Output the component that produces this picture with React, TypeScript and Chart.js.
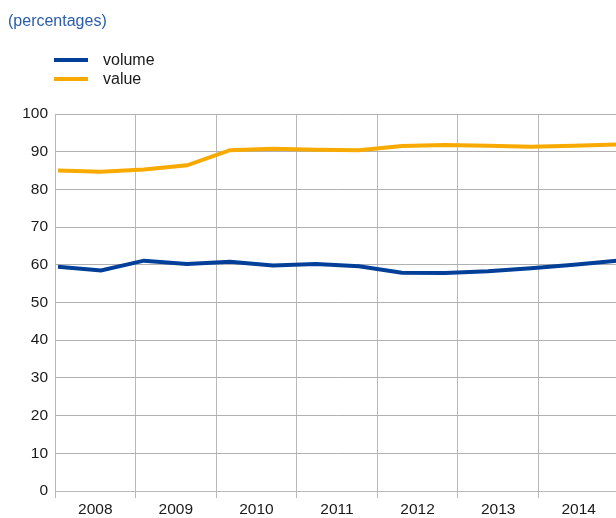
import React, { useEffect, useRef } from "react";
import { Chart, registerables } from "chart.js";

Chart.register(...registerables);

const years = ["2008", "2009", "2010", "2011", "2012", "2013", "2014"];
const volume = [59.5, 58.5, 61.1, 60.2, 60.8, 59.8, 60.2, 59.6, 57.9, 57.8, 58.3, 59.1, 60.0, 61.1];
const value = [85.0, 84.7, 85.3, 86.4, 90.4, 90.8, 90.5, 90.4, 91.5, 91.8, 91.6, 91.3, 91.6, 91.9];
const yTicks = [0, 10, 20, 30, 40, 50, 60, 70, 80, 90, 100];

const BLUE = "#023f98";
const ORANGE = "#f8aa00";
const FONT = "'Liberation Sans', Arial, sans-serif";

export default function App() {
  const ref = useRef<HTMLCanvasElement | null>(null);

  useEffect(() => {
    document.body.style.margin = "0";
    const ctx = ref.current!;
    const chart = new Chart(ctx, {
      type: "line",
      data: {
        labels: years,
        datasets: [
          {
            label: "volume",
            data: volume.map((v, i) => ({ x: i, y: v })),
            borderColor: BLUE,
            backgroundColor: BLUE,
            borderWidth: 4,
            pointRadius: 0,
            tension: 0,
            xAxisID: "xl",
          },
          {
            label: "value",
            data: value.map((v, i) => ({ x: i, y: v })),
            borderColor: ORANGE,
            backgroundColor: ORANGE,
            borderWidth: 4,
            pointRadius: 0,
            tension: 0,
            xAxisID: "xl",
          },
        ],
      },
      options: {
        animation: false,
        responsive: false,
        maintainAspectRatio: false,
        layout: { padding: { top: 114, left: 0, right: 0, bottom: 0 } },
        plugins: { legend: { display: false }, tooltip: { enabled: false }, title: { display: false } },
        scales: {
          x: {
            type: "category",
            offset: true,
            grid: { offset: true, color: "#b8b8b8", lineWidth: 1, tickLength: 7, drawTicks: true },
            border: { display: true, color: "#b8b8b8" },
            ticks: { color: "#1a1a1a", font: { family: FONT, size: 15.5 }, padding: 2, maxRotation: 0 },
            afterFit: (s: any) => { s.height = 27; },
          },
          xl: {
            type: "linear",
            display: false,
            min: -0.07,
            max: 13.05,
          },
          y: {
            min: 0,
            max: 100,
            afterBuildTicks: (s: any) => { s.ticks = yTicks.map((v) => ({ value: v })); },
            grid: { color: "#b0b0b0", lineWidth: 1, tickLength: 0, drawTicks: false },
            border: { display: true, color: "#b8b8b8" },
            ticks: { color: "#1a1a1a", font: { family: FONT, size: 15.5 }, padding: 7 },
            afterFit: (s: any) => { s.width = 55; },
          },
        },
      },
    });
    return () => chart.destroy();
  }, []);

  return (
    <div style={{ position: "relative", width: 616, height: 518, overflow: "hidden", fontFamily: FONT }}>
      <canvas ref={ref} width={619} height={518} style={{ position: "absolute", left: 0, top: 0, width: 619, height: 518 }} />
      <div style={{ position: "absolute", left: 8, top: 11, fontSize: 16, color: "#2a5caa", lineHeight: "20px" }}>
        (percentages)
      </div>
      {[
        { label: "volume", color: BLUE, top: 50 },
        { label: "value", color: ORANGE, top: 69 },
      ].map((it) => (
        <div key={it.label} style={{ position: "absolute", left: 54, top: it.top, height: 20, display: "flex", alignItems: "center" }}>
          <div style={{ width: 34, height: 4, background: it.color }} />
          <span style={{ marginLeft: 15, fontSize: 16, color: "#1a1a1a", lineHeight: "20px" }}>{it.label}</span>
        </div>
      ))}
    </div>
  );
}
